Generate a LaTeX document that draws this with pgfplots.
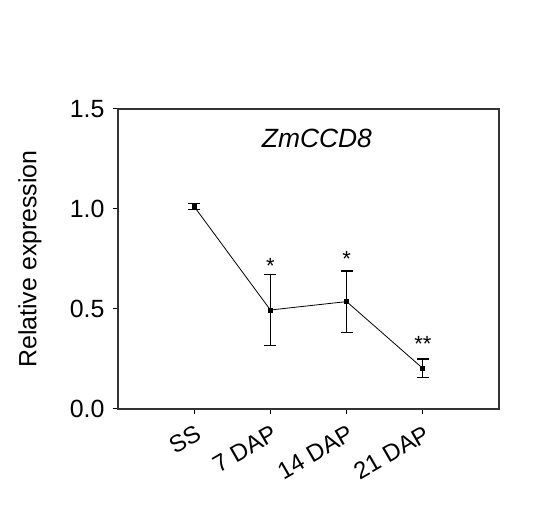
\documentclass[border=0pt]{standalone}
\usepackage{pgfplots}
\pgfplotsset{compat=1.18}
\usepackage{fontspec}
\setmainfont{Liberation Sans}

\begin{document}
\begin{tikzpicture}
\path[use as bounding box] (0,0) rectangle (539bp,525bp);
\begin{axis}[
  at={(118bp,116bp)}, anchor=south west,
  scale only axis, width=381bp, height=300bp,
  xmin=-1, xmax=4, ymin=0, ymax=1.5,
  xtick={0,1,2,3}, xticklabels={SS,7 DAP,14 DAP,21 DAP},
  ytick={0,0.5,1,1.5},
  /pgf/number format/assume math mode=true,
  tick align=outside, tick pos=left, major tick length=5bp,
  axis line style={line width=1.2bp, black!80},
  every tick/.style={line width=1bp, black},
  yticklabel style={/pgf/number format/fixed, /pgf/number format/fixed zerofill,
    /pgf/number format/precision=1, font=\fontsize{25}{30}\selectfont, xshift=-5bp},
  xticklabel style={font=\fontsize{24}{28}\selectfont, rotate=30, anchor=north east, inner sep=0pt, xshift=-5bp, yshift=-9bp},
  ylabel={Relative expression},
  ylabel style={at={(axis description cs:-0.231,0.5)}, anchor=center, font=\fontsize{25}{30}\selectfont},
  clip=false,
]
\addplot[black, line width=0.8bp, mark=square*, mark size=2bp,
  error bars/.cd, y dir=both, y explicit,
  error bar style={line width=1.3bp},
  error mark options={rotate=90, mark size=6bp, line width=1.3bp}]
  coordinates {
    (0,1.012) +- (0,0.014)
    (1,0.495) +- (0,0.176)
    (2,0.537) +- (0,0.153)
    (3,0.203) +- (0,0.047)
  };
\node[font=\fontsize{26.5}{31}\selectfont\itshape] at (axis cs:1.61,1.355) {ZmCCD8};
\node[font=\fontsize{22}{26}\selectfont, anchor=base, inner sep=0pt] at (axis cs:1,0.675) {*};
\node[font=\fontsize{22}{26}\selectfont, anchor=base, inner sep=0pt] at (axis cs:2,0.71) {*};
\node[font=\fontsize{22}{26}\selectfont, anchor=base, inner sep=0pt] at (axis cs:3,0.285) {**};
\end{axis}
\end{tikzpicture}
\end{document}
